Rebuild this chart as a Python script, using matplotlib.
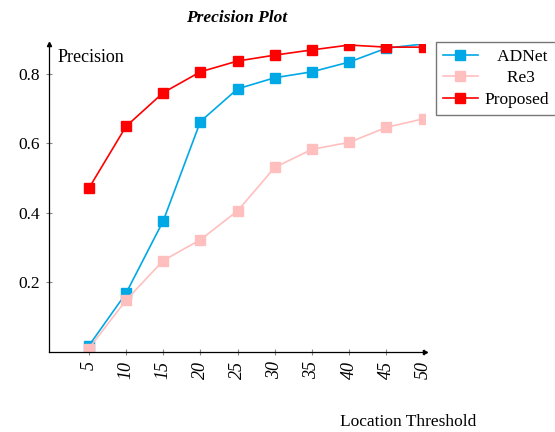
import matplotlib
matplotlib.use("Agg")
import matplotlib.pyplot as plt

thresholds = [5, 10, 15, 20, 25, 30, 35, 40, 45, 50]
adnet = [0.018, 0.169, 0.377, 0.663, 0.757, 0.789, 0.806, 0.834, 0.874, 0.886]
re3 = [0.010, 0.149, 0.263, 0.323, 0.406, 0.531, 0.583, 0.603, 0.646, 0.671]
proposed = [0.471, 0.649, 0.746, 0.806, 0.837, 0.854, 0.869, 0.883, 0.877, 0.877]
series_labels = ['ADNet', 'Re3', 'Proposed']
yticks = [0.2, 0.4, 0.6, 0.8]
ytick_labels = ["0.2", "0.4", "0.6", "0.8"]

plt.rcParams['font.family'] = ['Liberation Serif', 'DejaVu Serif']

W, H = 555, 432
fig = plt.figure(figsize=(W / 100, H / 100), dpi=100)
ax = fig.add_axes([49 / W, 80 / H, (425 - 49) / W, (352 - 44) / H])

ax.plot(thresholds, adnet, color='#00a8e6', marker='s', markersize=6.5, lw=1.2, label=series_labels[0])
ax.plot(thresholds, re3, color='#ffbfbf', marker='s', markersize=6.5, lw=1.2, label=series_labels[1])
ax.plot(thresholds, proposed, color='#ff0000', marker='s', markersize=6.5, lw=1.2, label=series_labels[2])

ax.set_xlim(-0.36, 50.2)
ax.set_ylim(0, 0.886)
ax.spines['top'].set_visible(False)
ax.spines['right'].set_visible(False)
for s in ['left', 'bottom']:
    ax.spines[s].set_linewidth(0.9)
ax.plot(1, 0, '>k', markersize=3, transform=ax.transAxes, clip_on=False)
ax.plot(0, 1, '^k', markersize=3, transform=ax.transAxes, clip_on=False)

ax.set_xticks(thresholds)
ax.set_xticklabels([str(t) for t in thresholds], rotation=90, style='italic', fontsize=13)
ax.set_yticks(yticks)
ax.set_yticklabels(ytick_labels, fontsize=12.5)
ax.tick_params(direction='inout', length=5, width=0.8, color='#888888', pad=4)

fig.text(237 / W, 1 - 18 / H, 'Precision Plot', ha='center', va='center',
         fontsize=12.5, style='italic', weight='bold')
fig.text(58 / W, 1 - 57 / H, 'Precision', ha='left', va='center', fontsize=13)
fig.text(408 / W, 1 - 422 / H, 'Location Threshold', ha='center', va='center', fontsize=12.5)

handles, labels = ax.get_legend_handles_labels()
padded = ['   ' + labels[0], '     ' + labels[1], labels[2]]
leg = fig.legend(handles, padded, loc='upper left', bbox_to_anchor=(436 / W, 1 - 42 / H), fontsize=12.5,
                 frameon=True, fancybox=False, edgecolor='#555555', handlelength=2.0,
                 borderpad=0.4, labelspacing=0.3, handletextpad=0.4, borderaxespad=0)
leg.get_frame().set_linewidth(1.0)

fig.savefig('out.png', dpi=100)
